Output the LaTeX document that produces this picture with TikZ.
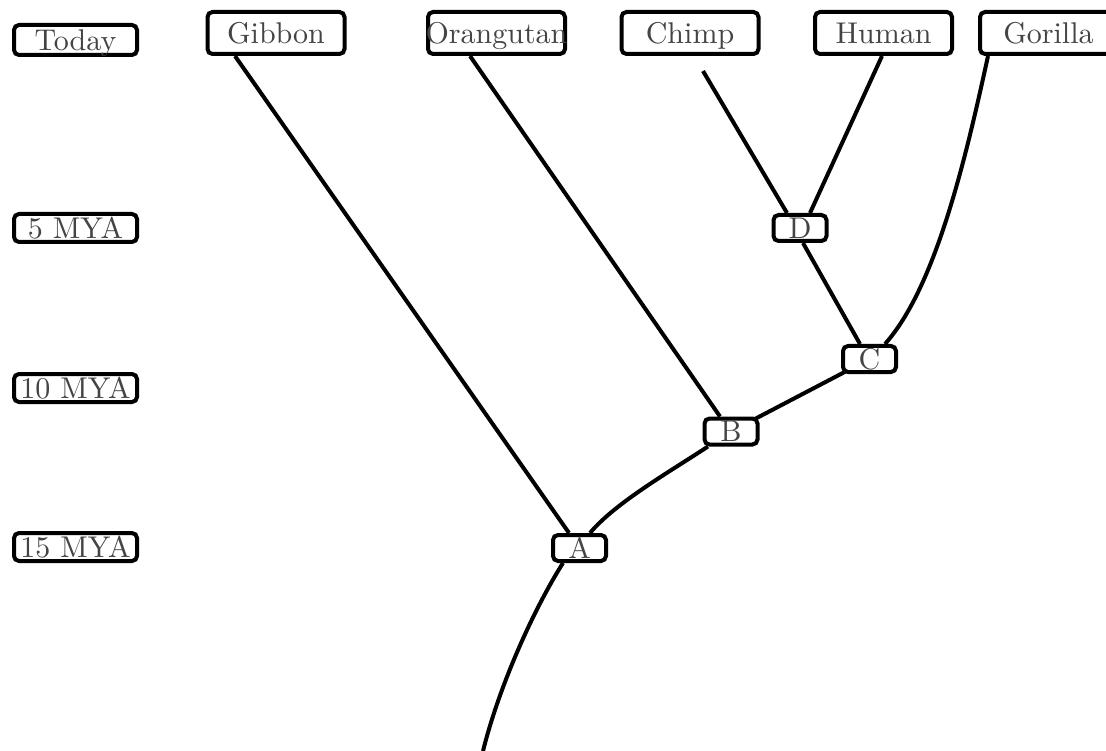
\documentclass[tikz,border=0pt]{standalone}
\usepackage{fontspec}
\setmainfont{lmroman10-regular.otf}
\usetikzlibrary{calc}
\definecolor{txt}{HTML}{444444}
\pgfdeclarelayer{bg}
\pgfsetlayers{bg,main}
\begin{document}
\begin{tikzpicture}[x=1pt,y=-1pt,
  box/.style={draw, line width=4pt, rounded corners=5pt, fill=white, inner sep=0pt,
    text=txt, font=\fontsize{30}{36}\selectfont, text depth=0pt},
  topbox/.style={box, minimum width=137pt, minimum height=42pt},
  sidebox/.style={box, minimum width=123pt, minimum height=28pt},
  innerbox/.style={box, minimum width=53pt, minimum height=26pt},
  link/.style={draw=black, line width=4pt}]
\useasboundingbox (0,0) rectangle (1106,751);

\node[sidebox, minimum height=30pt] (today) at (75.5,40) {\makebox[0pt]{Today}};
\node[sidebox] (mya5) at (75.5,228) {\makebox[0pt]{5 MYA}};
\node[sidebox] (mya10) at (75.5,388) {\makebox[0pt]{10 MYA}};
\node[sidebox] (mya15) at (75.5,547) {\makebox[0pt]{15 MYA}};

\node[topbox] (gibbon) at (276,33) {\makebox[0pt]{Gibbon}};
\node[topbox] (orang) at (496.5,33) {\makebox[0pt]{Orangutan}};
\node[topbox] (chimp) at (690,33) {\makebox[0pt]{Chimp}};
\node[topbox] (human) at (883.5,33) {\makebox[0pt]{Human}};
\node[topbox] (gorilla) at (1048.5,33) {\makebox[0pt]{Gorilla}};

\node[innerbox] (D) at (800,228) {\makebox[0pt]{D}};
\node[innerbox] (C) at (869.5,359) {\makebox[0pt]{C}};
\node[innerbox] (B) at (731,431.5) {\makebox[0pt]{B}};
\node[innerbox] (A) at (579.5,548) {\makebox[0pt]{A}};

\coordinate (chimpfree) at ($(chimp.south)+(13,15)$);
\coordinate (root) at ($(A.south)+(-96.5,188)$);

\begin{pgfonlayer}{bg}
\draw[link] ($(gibbon.south)+(-41,0)$) -- ($(A.north)+(-10.5,0)$);
\draw[link] ($(orang.south)+(-26.5,0)$) -- ($(B.north)+(-11,0)$);
\draw[link] (chimpfree) -- ($(D.north)+(-13,0)$);
\draw[link] ($(human.south)+(-1.5,0)$) -- ($(D.north)+(10,0)$);
\draw[link] ($(D.south)+(3,0)$) -- ($(C.north)+(-9.5,0)$);
\draw[link] ($(gorilla.south)+(-60.5,0)$) .. controls ($(gorilla.south)+(-83.5,106)$) and ($(C.north)+(65.5,-56)$) .. ($(C.north)+(15.5,0)$);
\draw[link] (C.center) -- (B.center);
\draw[link] ($(B.south)+(-23,0)$) .. controls ($(B.south)+(-61,25)$) and ($(A.north)+(35.5,-30)$) .. ($(A.north)+(10.5,0)$);
\draw[link] ($(A.south)+(-16.5,0)$) .. controls ($(A.south)+(-44.5,44)$) and ($(root)+(17,-68)$) .. (root);
\end{pgfonlayer}
\end{tikzpicture}
\end{document}
